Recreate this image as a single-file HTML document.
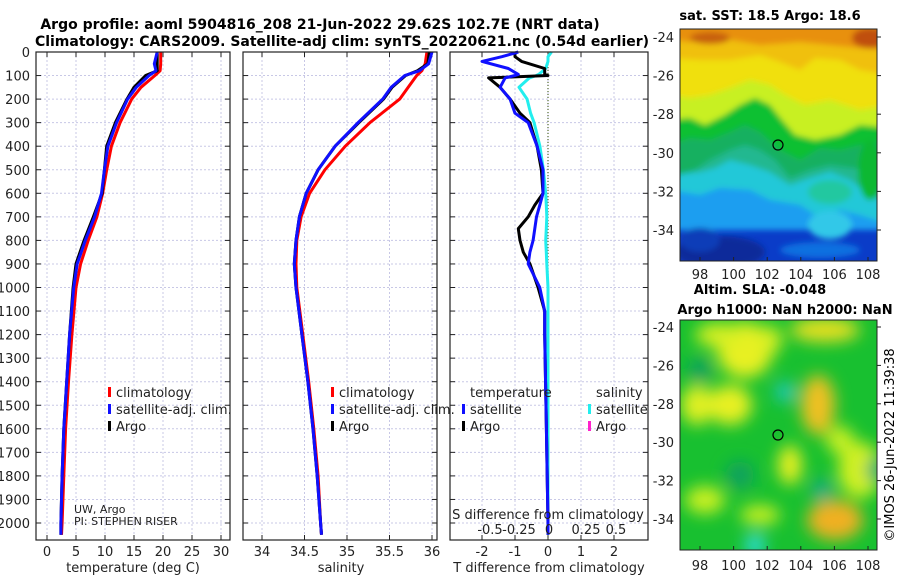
<!DOCTYPE html>
<html><head><meta charset="utf-8">
<style>
body{margin:0;background:#fff;width:900px;height:580px;overflow:hidden;font-family:"Liberation Sans","DejaVu Sans",sans-serif;}
svg text{font-family:"DejaVu Sans","Liberation Sans",sans-serif;}
</style></head>
<body>
<svg id="chart" width="900" height="580" xmlns="http://www.w3.org/2000/svg">
<defs>
<filter id="blur3" x="-20%" y="-20%" width="140%" height="140%"><feGaussianBlur stdDeviation="3"/></filter>
<filter id="blur9" x="-30%" y="-30%" width="160%" height="160%"><feGaussianBlur stdDeviation="8"/></filter>
<clipPath id="cm1"><rect x="680" y="29" width="197" height="232"/></clipPath>
<clipPath id="cm2"><rect x="680" y="320" width="197" height="230"/></clipPath>
</defs>
<text x="320" y="29" font-size="14" font-weight="bold" text-anchor="middle">Argo profile: aoml 5904816_208 21-Jun-2022 29.62S 102.7E (NRT data)</text>
<text x="342" y="46" font-size="14" font-weight="bold" text-anchor="middle">Climatology: CARS2009. Satellite-adj clim: synTS_20220621.nc (0.54d earlier)</text>
<g id="panels"></g>
<g id="maps">
 <g clip-path="url(#cm1)">
  <rect x="680" y="29" width="197" height="232" fill="#0a3cc8"/>
  <g filter="url(#blur3)">
   <rect x="670" y="20" width="220" height="210" fill="#1e9ef0"/>
   <path d="M670 20 H890 V225 L860 215 L840 210 L820 218 L800 205 L770 200 L750 190 L720 188 L700 195 L670 190 Z" fill="#20c8d8"/>
   <path d="M670 20 H890 V205 L870 195 L850 180 L830 172 L810 178 L790 185 L770 172 L750 165 L730 160 L715 168 L700 172 L670 175 Z" fill="#20b890"/>
   <path d="M670 20 H890 V200 L880 190 L870 170 L850 168 L830 165 L810 170 L790 178 L775 160 L760 150 L745 145 L730 150 L710 160 L695 170 L670 178 Z" fill="#18b060"/>
   <path d="M670 20 H890 V140 L860 145 L840 150 L820 148 L800 160 L780 150 L760 132 L745 125 L730 132 L710 140 L690 138 L670 145 Z" fill="#10c030"/>
   <path d="M670 20 H890 V128 L860 125 L840 135 L815 140 L795 135 L782 120 L770 105 L755 98 L740 105 L725 115 L705 125 L690 118 L670 120 Z" fill="#c8f020"/>
   <path d="M670 20 H890 V105 L860 110 L830 100 L805 105 L785 95 L770 85 L750 80 L730 88 L710 95 L690 98 L670 95 Z" fill="#f0e010"/>
   <path d="M670 20 H890 V75 L860 70 L840 60 L815 58 L800 70 L780 62 L760 55 L730 60 L700 60 L670 58 Z" fill="#f0c010"/>
   <path d="M670 20 H890 V50 L860 48 L830 45 L800 42 L760 45 L720 38 L690 42 L670 40 Z" fill="#e89010"/>
   <ellipse cx="720" cy="252" rx="45" ry="16" fill="#082a9a"/>
   <ellipse cx="700" cy="240" rx="20" ry="12" fill="#0a3cb8"/>
   <ellipse cx="820" cy="250" rx="40" ry="8" fill="#1070e0"/>
   <ellipse cx="830" cy="225" rx="22" ry="14" fill="#30c8e8"/>
   <ellipse cx="830" cy="192" rx="22" ry="12" fill="#20c8a0"/>
   <ellipse cx="870" cy="170" rx="12" ry="30" fill="#10b830"/>
   <ellipse cx="870" cy="38" rx="18" ry="10" fill="#c05010"/>
   <ellipse cx="710" cy="38" rx="20" ry="6" fill="#c86010"/>
  </g>
 </g>
 <rect x="680" y="29" width="197" height="232" fill="none" stroke="#222" stroke-width="1"/>
 <circle cx="778" cy="145" r="5" fill="none" stroke="#000" stroke-width="1.2"/>
 <text x="770" y="20" font-size="13" font-weight="bold" text-anchor="middle">sat. SST: 18.5 Argo: 18.6</text>
 <text x="760" y="294" font-size="13" font-weight="bold" text-anchor="middle">Altim. SLA: -0.048</text>
 <text x="785" y="314" font-size="13" font-weight="bold" text-anchor="middle">Argo h1000: NaN h2000: NaN</text>
 <g clip-path="url(#cm2)">
  <rect x="680" y="320" width="197" height="230" fill="#18c030"/>
  <g filter="url(#blur9)">
   <ellipse cx="745" cy="350" rx="28" ry="28" fill="#e8f020"/>
   <ellipse cx="720" cy="335" rx="25" ry="12" fill="#d8f020"/>
   <ellipse cx="825" cy="330" rx="35" ry="12" fill="#e8e020"/>
   <ellipse cx="818" cy="405" rx="17" ry="30" fill="#f0c020"/>
   <ellipse cx="770" cy="340" rx="12" ry="14" fill="#d8f020"/>
   <ellipse cx="730" cy="405" rx="22" ry="20" fill="#e8f020"/>
   <ellipse cx="697" cy="405" rx="16" ry="20" fill="#e0f020"/>
   <ellipse cx="790" cy="465" rx="12" ry="20" fill="#e8f020"/>
   <ellipse cx="835" cy="520" rx="28" ry="20" fill="#f0b020"/>
   <ellipse cx="860" cy="470" rx="22" ry="28" fill="#d0f020"/>
   <ellipse cx="705" cy="500" rx="20" ry="14" fill="#c8f020"/>
   <ellipse cx="760" cy="515" rx="20" ry="10" fill="#c8f020"/>
   <ellipse cx="840" cy="440" rx="14" ry="14" fill="#c8f020"/>
   <ellipse cx="785" cy="392" rx="10" ry="10" fill="#20c8c0"/>
   <ellipse cx="822" cy="490" rx="10" ry="10" fill="#18a890"/>
   <ellipse cx="755" cy="545" rx="10" ry="10" fill="#30e0f0"/>
   <ellipse cx="740" cy="475" rx="14" ry="14" fill="#10a060"/>
   <ellipse cx="700" cy="370" rx="12" ry="12" fill="#10a060"/>
   <ellipse cx="875" cy="470" rx="8" ry="12" fill="#10a080"/>
  </g>
 </g>
 <rect x="680" y="320" width="197" height="230" fill="none" stroke="#222" stroke-width="1"/>
 <circle cx="778" cy="435" r="5" fill="none" stroke="#000" stroke-width="1.2"/>
 <text transform="translate(894,445) rotate(-90)" font-size="13" text-anchor="middle">©IMOS 26-Jun-2022 11:39:38</text>
 <g id="mapticks"></g>
</g>
</svg>
<script>
// ---- data ----
const depths      = [0,50,80,100,150,200,300,400,500,600,700,800,900,1000,1200,1400,1600,1800,2000,2050];
const tempClim    = [19.6,19.6,19.5,18.6,16.2,14.6,12.6,11.1,10.3,9.6,8.6,7.1,5.8,5.0,4.3,3.7,3.2,2.9,2.6,2.5];
const tempSat     = [19.0,18.5,18.8,17.6,15.4,13.9,12.0,10.5,9.9,9.4,8.2,6.6,5.2,4.6,3.9,3.4,2.9,2.6,2.4,2.4];
const tempArgo    = [19.0,19.0,19.0,17.0,15.0,13.8,11.8,10.3,9.9,9.5,8.0,6.4,5.0,4.5,3.9,3.4,2.9,2.6,2.4,2.4];
const salClim     = [35.94,35.92,35.88,35.82,35.72,35.62,35.27,34.98,34.74,34.56,34.46,34.41,34.40,34.41,34.48,34.55,34.61,34.66,34.69,34.70];
const salSat      = [36.00,35.96,35.85,35.68,35.52,35.42,35.13,34.86,34.66,34.52,34.44,34.40,34.38,34.40,34.47,34.54,34.60,34.65,34.69,34.70];
const salArgo     = [35.97,35.95,35.83,35.69,35.53,35.43,35.14,34.86,34.66,34.52,34.44,34.40,34.38,34.40,34.47,34.54,34.60,34.65,34.69,34.70];
const dDepths     = [0,20,40,70,95,100,110,150,200,260,300,400,500,600,650,700,750,800,850,900,1000,1100,1200,1600,2000,2050];
const tDiffArgo   = [-1.0,-1.0,-0.8,-0.1,-0.1,0.0,-1.8,-1.45,-1.15,-0.85,-0.55,-0.33,-0.2,-0.15,-0.4,-0.6,-0.9,-0.85,-0.75,-0.55,-0.3,-0.1,-0.1,-0.05,0,0];
const tDiffSat    = [-0.9,-1.4,-2.0,-1.2,-0.9,-1.0,-1.3,-1.45,-1.15,-1.0,-0.6,-0.33,-0.15,-0.15,-0.25,-0.35,-0.4,-0.45,-0.55,-0.6,-0.25,-0.1,-0.1,-0.05,0,0];
const sDiffSat    = [0.03,0.0,0.0,-0.02,-0.08,-0.1,-0.16,-0.25,-0.18,-0.15,-0.12,-0.07,-0.04,-0.02,-0.015,-0.01,-0.015,-0.02,-0.015,-0.01,0,0,0,0,0,0];
const depthTicks  = [0,100,200,300,400,500,600,700,800,900,1000,1100,1200,1300,1400,1500,1600,1700,1800,1900,2000];
const tempTicks   = [0,5,10,15,20,25,30];
const salTicks    = [34,34.5,35,35.5,36];
const salTickLbl  = ["34","34.5","35","35.5","36"];
const tdTicks     = [-2,-1,0,1,2];
const sdTickVals  = [-0.5,-0.25,0,0.25,0.5];
const sdTickLbl   = ["-0.5","-0.25","0","0.25","0.5"];
const lonTicks    = [98,100,102,104,106,108];
const latTicks    = [-24,-26,-28,-30,-32,-34];

const NS="http://www.w3.org/2000/svg";
const root=document.getElementById('panels');
function mk(tag,attrs,parent,text){const e=document.createElementNS(NS,tag);for(const k in attrs)e.setAttribute(k,attrs[k]);if(text!==undefined)e.textContent=text;(parent||root).appendChild(e);return e;}
const yTop=52,yBot=540;
const yD=d=>yTop+d*0.2355;
const P1={x0:36,x1:230,f:v=>47+v*5.8};
const P2={x0:243,x1:437,f:v=>262+(v-34)*85};
const P3={x0:450,x1:648,f:v=>548+v*33};
const sdX=v=>548+v*116;

function grid(P,ticks,fx){
  ticks.forEach(t=>{const l=mk('line',{x1:fx(t),x2:fx(t),y1:yTop,y2:yBot,stroke:'#c8c8e6','stroke-dasharray':'2,2','stroke-width':1});
  });
  depthTicks.forEach(d=>{const l=mk('line',{x1:P.x0,x2:P.x1,y1:yD(d),y2:yD(d),stroke:'#c8c8e6','stroke-dasharray':'2,2','stroke-width':1});
  
  mk('line',{x1:P.x0,x2:P.x0+5,y1:yD(d),y2:yD(d),stroke:'#222'});mk('line',{x1:P.x1-5,x2:P.x1,y1:yD(d),y2:yD(d),stroke:'#222'});});
  ticks.forEach(t=>{mk('line',{x1:fx(t),x2:fx(t),y1:yBot,y2:yBot-5,stroke:'#222'});mk('line',{x1:fx(t),x2:fx(t),y1:yTop,y2:yTop+5,stroke:'#222'});});
}
function frame(P,name){const r=mk('rect',{x:P.x0,y:yTop,width:P.x1-P.x0,height:yBot-yTop,fill:'none',stroke:'#222','stroke-width':1.2});
  }
function line(xs,ds,fx,color,name,w){
  const pts=xs.map((v,i)=>fx(v).toFixed(1)+','+yD(ds[i]).toFixed(1)).join(' ');
  const p=mk('polyline',{points:pts,fill:'none',stroke:color,'stroke-width':w||3,'stroke-linejoin':'round'});
  }
function txt(x,y,s,opts,name){const t=mk('text',Object.assign({x:x,y:y,'font-size':13,fill:'#222'},opts||{}),root,s);
  return t;}

// panel 1
grid(P1,tempTicks,P1.f);
line(tempClim,depths,P1.f,'#ff0000','temp-climatology-line');
line(tempArgo,depths,P1.f,'#000000','temp-argo-line');
line(tempSat,depths,P1.f,'#1010ff','temp-satellite-line');
frame(P1,'temperature-panel');
depthTicks.forEach(d=>txt(30,yD(d)+5,String(d),{'text-anchor':'end'},'depth-tick-label'));
tempTicks.forEach(t=>txt(P1.f(t),556,String(t),{'text-anchor':'middle'},'temp-tick-label'));
txt(133,572,'temperature (deg C)',{'text-anchor':'middle'},'temp-axis-title');
// panel 2
grid(P2,salTicks,P2.f);
line(salClim,depths,P2.f,'#ff0000','sal-climatology-line');
line(salArgo,depths,P2.f,'#000000','sal-argo-line');
line(salSat,depths,P2.f,'#1010ff','sal-satellite-line');
frame(P2,'salinity-panel');
salTicks.forEach((t,i)=>txt(P2.f(t),556,salTickLbl[i],{'text-anchor':'middle'},'sal-tick-label'));
txt(341,572,'salinity',{'text-anchor':'middle'},'sal-axis-title');
// panel 3
grid(P3,tdTicks,P3.f);
const zl=mk('line',{x1:548,x2:548,y1:yTop,y2:yBot,stroke:'#556b2f','stroke-dasharray':'1,2','stroke-width':1.2});

line(sDiffSat,dDepths,sdX,'#22eeee','sal-diff-satellite-line');
line(tDiffArgo,dDepths,P3.f,'#000000','temp-diff-argo-line');
line(tDiffSat,dDepths,P3.f,'#1010ff','temp-diff-satellite-line');
frame(P3,'difference-panel');
tdTicks.forEach(t=>txt(P3.f(t),556,String(t),{'text-anchor':'middle'},'tdiff-tick-label'));
txt(549,572,'T difference from climatology',{'text-anchor':'middle'},'tdiff-axis-title');
txt(548,519,'S difference from climatology',{'text-anchor':'middle'},'sdiff-axis-title');
const sdPos=[490,519,549,586,616];
sdTickVals.forEach((t,i)=>txt(sdPos[i],534,sdTickLbl[i],{'text-anchor':'middle'},'sdiff-tick-label'));
// legends
function leg(x,y,color,label,name){const r=mk('rect',{x:x,y:y-10,width:3,height:10,fill:color});
  txt(x+8,y,label,{},name);}
leg(108,397,'#ff0000','climatology','legend-climatology');
leg(108,414,'#1010ff','satellite-adj. clim.','legend-satellite-adj');
leg(108,431,'#000000','Argo','legend-argo');
leg(331,397,'#ff0000','climatology','legend2-climatology');
leg(331,414,'#1010ff','satellite-adj. clim.','legend2-satellite-adj');
leg(331,431,'#000000','Argo','legend2-argo');
txt(470,397,'temperature',{},'legend3-temperature-header');
txt(596,397,'salinity',{},'legend3-salinity-header');
leg(462,414,'#1010ff','satellite','legend3-temp-satellite');
leg(462,431,'#000000','Argo','legend3-temp-argo');
leg(588,414,'#22eeee','satellite','legend3-sal-satellite');
leg(588,431,'#ff22cc','Argo','legend3-sal-argo');
txt(74,513,'UW, Argo',{'font-size':11},'pi-institution');
txt(74,525,'PI: STEPHEN RISER',{'font-size':11},'pi-name');
// map ticks
const mt=document.getElementById('mapticks');
const lonX=v=>700+(v-98)*16.8;
const lat1=v=>37+(-24-v)*19.3;
const lat2=v=>327+(-24-v)*19.2;
lonTicks.forEach(v=>{
  const a=mk('text',{x:lonX(v),y:279,'font-size':13,'text-anchor':'middle',fill:'#222'},mt,String(v));
  const b=mk('text',{x:lonX(v),y:570,'font-size':13,'text-anchor':'middle',fill:'#222'},mt,String(v));
  mk('line',{x1:lonX(v),x2:lonX(v),y1:261,y2:257,stroke:'#222'},mt);mk('line',{x1:lonX(v),x2:lonX(v),y1:550,y2:546,stroke:'#222'},mt);
});
latTicks.forEach(v=>{
  const a=mk('text',{x:674,y:lat1(v)+5,'font-size':13,'text-anchor':'end',fill:'#222'},mt,String(v));
  const b=mk('text',{x:674,y:lat2(v)+5,'font-size':13,'text-anchor':'end',fill:'#222'},mt,String(v));
  mk('line',{x1:877,x2:881,y1:lat1(v),y2:lat1(v),stroke:'#222'},mt);mk('line',{x1:877,x2:881,y1:lat2(v),y2:lat2(v),stroke:'#222'},mt);
});
</script>
</body></html>
